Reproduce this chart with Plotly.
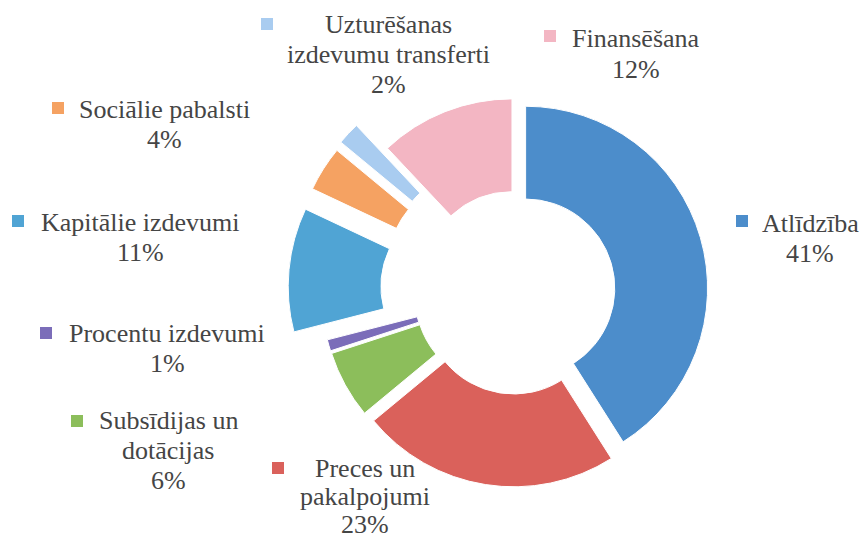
import plotly.graph_objects as go

# ---- data ----
categories = ["Atlīdzība", "Preces un pakalpojumi", "Subsīdijas un dotācijas",
              "Procentu izdevumi", "Kapitālie izdevumi", "Sociālie pabalsti",
              "Uzturēšanas izdevumu transferti", "Finansēšana"]
label_text = ["Atlīdzība", "Preces un<br>pakalpojumi", "Subsīdijas un<br>dotācijas",
              "Procentu izdevumi", "Kapitālie izdevumi", "Sociālie pabalsti",
              "Uzturēšanas<br>izdevumu transferti", "Finansēšana"]
values = [41, 23, 6, 1, 11, 4, 2, 12]
colors = ["#4C8DCB", "#DA615B", "#8CBE5B", "#7B6DB9",
          "#50A4D4", "#F5A262", "#A9CCF0", "#F3B6C3"]
pulls = [0.055, 0.077, 0.071, 0.071, 0.253, 0.253, 0.264, 0.06]

# ---- layout helpers (pixel positions of labels) ----
W, H = 863, 541
label_pos = [(810, 232, 30), (365, 477, 28), (168, 429, 30), (167, 342, 30),
             (140, 231, 30), (164, 118, 30), (388, 33, 30), (636, 47, 31)]
marker_pos = [(736, 215), (272, 462), (71, 415), (40, 327),
              (12, 215), (52, 102), (261, 18), (544, 30)]
MS = 12
FONT = "'Liberation Serif', 'Times New Roman', 'DejaVu Serif', serif"

cx, cy, half = 516, 291, 230

fig = go.Figure(go.Pie(
    labels=categories, values=values, sort=False, direction="clockwise",
    rotation=0, hole=0.49, pull=pulls, textinfo="none", hoverinfo="label+percent",
    marker=dict(colors=colors, line=dict(color="white", width=1)),
    domain=dict(x=[(cx - half) / W, (cx + half) / W],
                y=[1 - (cy + half) / H, 1 - (cy - half) / H]),
    showlegend=False,
))

annotations = []
shapes = []
FS = 26
for i, cat in enumerate(categories):
    lines = label_text[i].split("<br>") + [f"{values[i]}%"]
    x0, base0, pitch = label_pos[i]
    for k, ln in enumerate(lines):
        base = base0 + k * pitch
        annotations.append(dict(
            x=x0 / W, y=1 - (base - 0.34 * FS) / H, xref="paper", yref="paper",
            text=ln, showarrow=False, xanchor="center", yanchor="middle",
            font=dict(family=FONT, size=FS, color="#454545")))
    mx, my = marker_pos[i]
    shapes.append(dict(type="rect", xref="paper", yref="paper",
                       x0=mx / W, x1=(mx + MS) / W,
                       y0=1 - (my + MS) / H, y1=1 - my / H,
                       fillcolor=colors[i], line=dict(width=0)))

fig.update_layout(
    width=W, height=H, margin=dict(l=0, r=0, t=0, b=0),
    paper_bgcolor="white", plot_bgcolor="white",
    font=dict(family=FONT),
    annotations=annotations, shapes=shapes,
)
fig.write_html("out.html", config={"displayModeBar": False},
               post_script="document.body.style.margin='0';document.body.style.overflow='hidden';")
